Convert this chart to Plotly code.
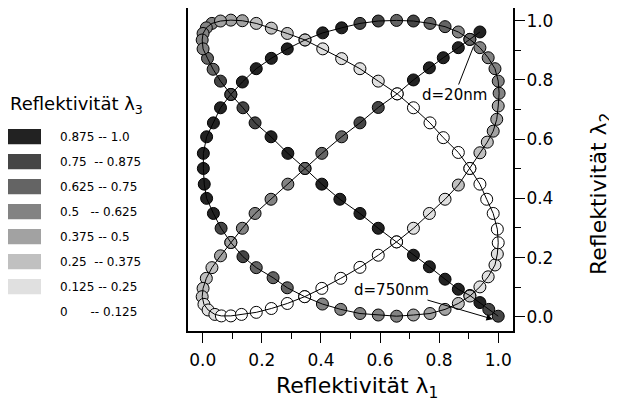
import plotly.graph_objects as go

# Reflectivity at lambda1 (x), lambda2 (y) and lambda3 (grey level), in path order d = 20 nm ... 750 nm
R1 = [0.938, 0.904, 0.865, 0.814, 0.767, 0.713, 0.658,
      0.594, 0.532, 0.470, 0.403, 0.346,
      0.288, 0.231, 0.177, 0.134, 0.095,
      0.060, 0.031, 0.012, 0.001, -0.002, 0.004, 0.018, 0.041, 0.063, 0.095, 0.131, 0.181, 0.232, 0.286, 0.345,
      0.403, 0.467, 0.532, 0.594, 0.656,
      0.713, 0.767, 0.820, 0.865, 0.904,
      0.938, 0.963, 0.983, 0.995, 1.000, 1.003, 1.000, 0.989, 0.966, 0.938, 0.904,
      0.865, 0.820, 0.769, 0.713, 0.656, 0.594, 0.532, 0.470, 0.406, 0.346,
      0.286, 0.232, 0.181, 0.134, 0.095,
      0.060, 0.036, 0.013, 0.002, 0.002, 0.005, 0.013, 0.036, 0.062, 0.095,
      0.136, 0.181, 0.238, 0.286, 0.345,
      0.405, 0.467, 0.532, 0.594, 0.656, 0.713, 0.769, 0.820, 0.865, 0.904,
      0.938, 0.966, 0.989, 0.997, 1.000, 0.997, 0.983, 0.961, 0.938, 0.904,
      0.865, 0.814, 0.769, 0.713, 0.658,
      0.594, 0.532, 0.470, 0.406, 0.346,
      0.286, 0.232, 0.181, 0.134, 0.095, 0.060, 0.031, 0.012, 0.001, -0.002, 0.001, 0.016, 0.035, 0.060, 0.095,
      0.136, 0.177, 0.231, 0.288, 0.346,
      0.403, 0.464, 0.532, 0.594, 0.656,
      0.713, 0.767, 0.820, 0.865, 0.904, 0.938, 0.968, 1.000]

R2 = [0.962, 0.937, 0.909, 0.875, 0.841, 0.800, 0.753,
      0.707, 0.655, 0.608, 0.552, 0.501,
      0.448, 0.397, 0.349, 0.299, 0.251,
      0.206, 0.166, 0.130, 0.096, 0.068, 0.042, 0.023, 0.008, 0.003, 0.003, 0.008, 0.015, 0.028, 0.045, 0.068,
      0.096, 0.130, 0.167, 0.208, 0.253,
      0.299, 0.349, 0.397, 0.445, 0.501,
      0.554, 0.590, 0.627, 0.667, 0.712, 0.755, 0.796, 0.838, 0.875, 0.909, 0.937,
      0.962, 0.980, 0.991, 0.999, 1.001, 0.999, 0.991, 0.976, 0.959, 0.935,
      0.905, 0.873, 0.838, 0.793, 0.751,
      0.706, 0.655, 0.608, 0.552, 0.501, 0.448, 0.400, 0.349, 0.299, 0.251,
      0.203, 0.166, 0.132, 0.098, 0.068,
      0.043, 0.025, 0.011, 0.006, 0.002, 0.006, 0.011, 0.025, 0.045, 0.070,
      0.101, 0.135, 0.175, 0.212, 0.250, 0.296, 0.349, 0.397, 0.448, 0.501,
      0.555, 0.605, 0.655, 0.706, 0.753,
      0.796, 0.838, 0.872, 0.905, 0.935,
      0.957, 0.975, 0.991, 1.000, 1.002, 0.999, 0.991, 0.976, 0.957, 0.935, 0.905, 0.873, 0.836, 0.796, 0.751,
      0.706, 0.655, 0.608, 0.552, 0.501,
      0.448, 0.397, 0.349, 0.299, 0.253,
      0.208, 0.169, 0.127, 0.093, 0.072, 0.048, 0.025, 0.002]

R3 = [0.94, 0.94, 0.94, 0.94, 0.94, 0.94, 0.94,
      0.81, 0.81, 0.69, 0.69, 0.69,
      0.56, 0.56, 0.56, 0.56, 0.44,
      0.44, 0.31, 0.31, 0.31, 0.31, 0.19, 0.19, 0.19, 0.06, 0.06, 0.06, 0.06, 0.06, 0.06, 0.06,
      0.06, 0.06, 0.06, 0.06, 0.06,
      0.19, 0.19, 0.19, 0.31, 0.31,
      0.31, 0.31, 0.44, 0.44, 0.44, 0.56, 0.56, 0.56, 0.56, 0.56, 0.69,
      0.56, 0.69, 0.69, 0.81, 0.69, 0.81, 0.81, 0.94, 0.94, 0.94,
      0.94, 0.94, 0.94, 0.94, 0.94,
      0.94, 0.94, 0.94, 0.94, 0.94, 0.94, 0.94, 0.94, 0.81, 0.81,
      0.81, 0.69, 0.69, 0.69, 0.69,
      0.56, 0.56, 0.56, 0.56, 0.56, 0.44, 0.44, 0.44, 0.31, 0.31,
      0.19, 0.19, 0.19, 0.19, 0.06, 0.06, 0.06, 0.06, 0.06, 0.06,
      0.06, 0.06, 0.06, 0.06, 0.06,
      0.19, 0.19, 0.19, 0.19, 0.31,
      0.31, 0.31, 0.31, 0.44, 0.44, 0.44, 0.56, 0.56, 0.56, 0.56, 0.56, 0.69, 0.69, 0.81, 0.81,
      0.81, 0.81, 0.94, 0.94, 0.94,
      0.94, 0.94, 0.94, 0.94, 0.94,
      0.94, 0.94, 0.94, 0.94, 0.94, 0.94, 0.81, 0.81]

bin_edges = [0.0, 0.125, 0.25, 0.375, 0.5, 0.625, 0.75, 0.875, 1.0]
bin_colors = ['#ffffff', '#e0e0e0', '#c0c0c0', '#a2a2a2', '#838383', '#646464', '#454545', '#222222']
legend_labels = ['0.875 -- 1.0', '0.75\u00a0\u00a0-- 0.875', '0.625 -- 0.75', '0.5\u00a0\u00a0\u00a0-- 0.625',
                 '0.375 -- 0.5', '0.25\u00a0\u00a0-- 0.375', '0.125 -- 0.25', '0\u00a0\u00a0\u00a0\u00a0\u00a0\u00a0-- 0.125']
tick_vals = [0.0, 0.2, 0.4, 0.6, 0.8, 1.0]
tick_text = ['0.0', '0.2', '0.4', '0.6', '0.8', '1.0']

FONT = 'DejaVu Sans'


def bin_of(v):
    for k in range(8):
        if v < bin_edges[k + 1]:
            return k
    return 7


bins = [bin_of(v) for v in R3]

fig = go.Figure()
# darkest group first, lighter groups on top
for k in range(7, -1, -1):
    idx = [i for i, b in enumerate(bins) if b == k]
    fig.add_trace(go.Scatter(
        x=[R1[i] for i in idx], y=[R2[i] for i in idx], mode='markers',
        marker=dict(size=12, color=bin_colors[k], line=dict(color='black', width=1)),
        showlegend=False, hoverinfo='skip'))
# thin connecting line drawn over the markers
fig.add_trace(go.Scatter(x=R1, y=R2, mode='lines', line=dict(color='black', width=1),
                         showlegend=False, hoverinfo='skip'))

# page has an 8px body margin: figure is sized so that it fits the window
OFF = 8
W, H = 609, 406
L, R, T, B = 180, 104, 0, 83
PW, PH = W - L - R, H - T - B


def pxx(px):
    return (px - OFF - L) / PW


def pxy(py):
    return (H - B - (py - OFF)) / PH


axis_common = dict(tickvals=tick_vals, ticktext=tick_text,
                   ticks='outside', ticklen=10, tickwidth=1.2, tickcolor='black',
                   minor=dict(tick0=0, dtick=0.1, ticks='outside', ticklen=6, tickwidth=1.2, tickcolor='black'),
                   showline=True, linewidth=2, linecolor='black', mirror=True,
                   showgrid=False, zeroline=False,
                   tickfont=dict(family=FONT, size=17, color='black'))

fig.update_layout(
    width=W, height=H, margin=dict(l=L, r=R, t=T, b=B, autoexpand=False),
    plot_bgcolor='white', paper_bgcolor='white', showlegend=False,
    xaxis=dict(**axis_common, range=[-0.05, 1.05], ticklabelstandoff=3),
    yaxis=dict(**axis_common, range=[-0.048, 1.043], side='right', ticklabelstandoff=-2),
)

shapes = []
annotations = []
# grey-level legend
annotations.append(dict(xref='paper', yref='paper', x=pxx(8), y=pxy(105), xanchor='left', yanchor='middle',
                        text='Reflektivität λ<sub>3</sub>', showarrow=False,
                        font=dict(family=FONT, size=18, color='black')))
for i, lab in enumerate(legend_labels):
    k = 7 - i
    yc = 136.7 + 25 * i
    if bin_colors[k] != '#ffffff':
        shapes.append(dict(type='rect', xref='paper', yref='paper', x0=pxx(8), x1=pxx(41),
                           y0=pxy(yc - 7.6), y1=pxy(yc + 7.6), fillcolor=bin_colors[k],
                           line=dict(width=0)))
    annotations.append(dict(xref='paper', yref='paper', x=pxx(58), y=pxy(yc), xanchor='left', yanchor='middle',
                            text=lab, showarrow=False, font=dict(family=FONT, size=12, color='black')))

# axis titles
annotations.append(dict(xref='paper', yref='paper', x=pxx(357), y=pxy(387), xanchor='center', yanchor='middle',
                        text='Reflektivität λ<sub>1</sub>', showarrow=False,
                        font=dict(family=FONT, size=22, color='black')))
annotations.append(dict(xref='paper', yref='paper', x=pxx(600), y=pxy(194), xanchor='center', yanchor='middle',
                        text='Reflektivität λ<sub>2</sub>', textangle=-90, showarrow=False,
                        font=dict(family=FONT, size=22, color='black')))

# thickness labels with their pointers
annotations.append(dict(x=0.916, y=0.912, ax=0.852, ay=0.749, axref='x', ayref='y', text='d=20nm',
                        showarrow=True, arrowhead=0, arrowwidth=1, arrowcolor='black',
                        font=dict(family=FONT, size=15, color='black')))
annotations.append(dict(x=0.982, y=-0.008, ax=0.639, ay=0.092, axref='x', ayref='y', text='d=750nm',
                        showarrow=True, arrowhead=2, arrowsize=1.3, arrowwidth=1, arrowcolor='black',
                        font=dict(family=FONT, size=15, color='black')))

fig.update_layout(shapes=shapes, annotations=annotations)
fig.write_html('out.html')
